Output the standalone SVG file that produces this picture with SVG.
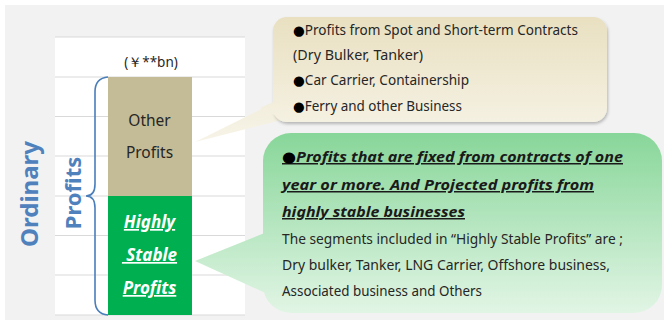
<svg xmlns="http://www.w3.org/2000/svg" width="664" height="320" viewBox="0 0 664 320">
  <style>
    .t { font-family: "Noto Sans", "Open Sans", "Liberation Sans", sans-serif; fill: #262626; }
    .grid { stroke: #d9d9d9; stroke-width: 1; }
    .axis { font-family: "Noto Sans", "Liberation Sans", sans-serif; font-weight: bold; fill: #4f81bd; }
    .bar { font-family: "Noto Sans", "Liberation Sans", sans-serif; font-weight: bold; font-style: italic; fill: #ffffff; text-decoration: underline; font-size: 17px; text-anchor: middle; }
    .head { font-weight: bold; font-style: italic; text-decoration: underline; font-size: 15px; fill: #1a1a1a; }
    .body { font-size: 13.5px; }
    .dot { font-family: "DejaVu Sans", sans-serif; fill: #000000; font-style: normal; }
  </style>
  <defs>
    <linearGradient id="tanFill" gradientUnits="userSpaceOnUse" x1="0" y1="17" x2="0" y2="142">
      <stop offset="0" stop-color="#e9e0c1"/>
      <stop offset="1" stop-color="#f7f4e8"/>
    </linearGradient>
    <linearGradient id="greenFill" gradientUnits="userSpaceOnUse" x1="0" y1="133" x2="0" y2="313">
      <stop offset="0" stop-color="#88d699"/>
      <stop offset="1" stop-color="#e2f5e5"/>
    </linearGradient>
    <filter id="shadow" x="-5%" y="-5%" width="110%" height="115%">
      <feDropShadow dx="1" dy="2" stdDeviation="1.5" flood-color="#000000" flood-opacity="0.25"/>
    </filter>
  </defs>

  <!-- page background -->
  <rect x="0" y="0" width="664" height="320" fill="#ffffff"/>
  <rect x="5" y="5" width="659" height="315" fill="#f2f2f2"/>

  <!-- chart area with grid -->
  <g id="chart">
    <rect x="55" y="37" width="190" height="278" fill="#ffffff"/>
    <line class="grid" x1="55" y1="37" x2="245" y2="37"/>
    <line class="grid" x1="55" y1="77" x2="245" y2="77"/>
    <line class="grid" x1="55" y1="116.5" x2="245" y2="116.5"/>
    <line class="grid" x1="55" y1="156" x2="245" y2="156"/>
    <line class="grid" x1="55" y1="196" x2="245" y2="196"/>
    <line class="grid" x1="55" y1="235.5" x2="245" y2="235.5"/>
    <line class="grid" x1="55" y1="275" x2="245" y2="275"/>
    <line class="grid" x1="55" y1="315" x2="245" y2="315"/>
    <text class="t" x="151" y="67" font-size="13.5" text-anchor="middle">(￥**bn)</text>
  </g>

  <!-- stacked bar -->
  <g id="other-profits">
    <rect x="108" y="77" width="84" height="119" fill="#c4bc97"/>
    <text class="t" x="149.5" y="126" font-size="15.5" text-anchor="middle">Other</text>
    <text class="t" x="149.5" y="158" font-size="15.5" text-anchor="middle">Profits</text>
  </g>
  <g id="stable-profits">
    <rect x="108" y="196" width="84" height="119" fill="#00b050"/>
    <text class="bar" x="149.5" y="228">Highly</text>
    <text class="bar" x="149.5" y="261" xml:space="preserve"> Stable</text>
    <text class="bar" x="149.5" y="294">Profits</text>
  </g>

  <!-- axis labels and brace -->
  <g id="ordinary-label">
    <text class="axis" font-size="24" text-anchor="middle" transform="translate(38,194) rotate(-90)">Ordinary</text>
  </g>
  <g id="profits-label">
    <text class="axis" font-size="22" text-anchor="middle" transform="translate(81,193) rotate(-90)">Profits</text>
  </g>
  <g id="brace">
    <path d="M108,77 Q95,78 95,92 L95,184 Q95,196 86,196 Q95,196 95,208 L95,300 Q95,314 108,315" fill="none" stroke="#4a7ebb" stroke-width="1.6"/>
  </g>

  <!-- callout pointers -->
  <g id="connectors">
    <polygon points="195,142 280,100 282,120" fill="url(#tanFill)"/>
    <polygon points="195,261 272,230 272,296" fill="url(#greenFill)"/>
  </g>

  <g id="callout-other">
    <rect x="273" y="17" width="334" height="105" rx="14" fill="url(#tanFill)" filter="url(#shadow)"/>
    <polygon points="260,108 282,98 284,120" fill="url(#tanFill)"/>
    <text class="t body" x="293" y="35" textLength="285" lengthAdjust="spacingAndGlyphs"><tspan class="dot">●</tspan>Profits from Spot and Short-term Contracts</text>
    <text class="t body" x="293" y="60" textLength="130" lengthAdjust="spacingAndGlyphs">(Dry Bulker, Tanker)</text>
    <text class="t body" x="293" y="85" textLength="176" lengthAdjust="spacingAndGlyphs"><tspan class="dot">●</tspan>Car Carrier, Containership</text>
    <text class="t body" x="293" y="111" textLength="169" lengthAdjust="spacingAndGlyphs"><tspan class="dot">●</tspan>Ferry and other Business</text>
  </g>

  <g id="callout-stable">
    <rect x="263" y="133" width="399" height="180" rx="28" fill="url(#greenFill)"/>
    <text class="t head" x="282" y="162" textLength="341" lengthAdjust="spacingAndGlyphs"><tspan class="dot">●</tspan>Profits that are fixed from contracts of one</text>
    <text class="t head" x="282" y="190" textLength="312" lengthAdjust="spacingAndGlyphs">year or more. And Projected profits from</text>
    <text class="t head" x="282" y="217" textLength="183" lengthAdjust="spacingAndGlyphs">highly stable businesses</text>
    <text class="t body" x="282" y="244" textLength="341" lengthAdjust="spacingAndGlyphs" fill="#333333">The segments included in “Highly Stable Profits” are ;</text>
    <text class="t body" x="282" y="270" textLength="328" lengthAdjust="spacingAndGlyphs" fill="#333333">Dry bulker, Tanker, LNG Carrier, Offshore business,</text>
    <text class="t body" x="282" y="296" textLength="200" lengthAdjust="spacingAndGlyphs" fill="#333333">Associated business and Others</text>
  </g>
</svg>
